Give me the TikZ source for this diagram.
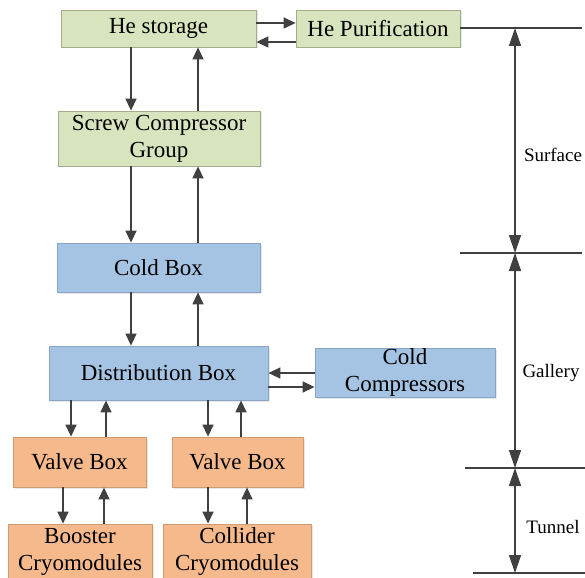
\documentclass[tikz,border=0pt]{standalone}
\usepackage{fontspec}
\setmainfont{Liberation Serif}
\usetikzlibrary{arrows.meta,shadows}
\definecolor{grfill}{HTML}{D7E4BD}
\definecolor{grdraw}{HTML}{A3AD8C}
\definecolor{blfill}{HTML}{A5C4E4}
\definecolor{bldraw}{HTML}{8AA5C4}
\definecolor{orfill}{HTML}{F5B98C}
\definecolor{ordraw}{HTML}{CF9A70}
\definecolor{arrcol}{HTML}{404040}
\tikzset{
  box/.style={rectangle, line width=0.8pt, align=center, inner sep=0pt,
    font=\fontsize{23}{27}\selectfont,
    drop shadow={opacity=0.18, shadow xshift=1.5pt, shadow yshift=-1.5pt}},
  gbox/.style={box, fill=grfill, draw=grdraw},
  bbox/.style={box, fill=blfill, draw=bldraw},
  obox/.style={box, fill=orfill, draw=ordraw},
  arr/.style={draw=arrcol, line width=1.4pt, -{Triangle[length=12pt,width=11pt]}},
  dimarr/.style={draw=arrcol, line width=1.4pt, {Triangle[length=18pt,width=12pt]}-{Triangle[length=18pt,width=12pt]}},
  hline/.style={draw=arrcol, line width=1.4pt},
  lab/.style={font=\fontsize{19}{22}\selectfont, inner sep=0pt}
}
\begin{document}
\begin{tikzpicture}[x=1pt,y=-1pt]
\clip (0,0) rectangle (585,577);
\fill[white] (0,0) rectangle (585,577);
% nodes
\node[gbox, minimum width=195, minimum height=37] (hes) at (158.5,28.5) {He storage};
\node[gbox, minimum width=164, minimum height=37] (hep) at (378,28.5) {He Purification};
\node[gbox, minimum width=202, minimum height=55] (scg) at (159,138.5) {Screw Compressor\\Group};
\node[bbox, minimum width=203, minimum height=49] (cb) at (158.5,267.5) {Cold Box};
\node[bbox, minimum width=219, minimum height=54] (db) at (158.5,373) {Distribution Box};
\node[bbox, minimum width=180, minimum height=49] (cc) at (405,372.5) {Cold\\Compressors};
\node[obox, minimum width=133, minimum height=50] (vb1) at (79.5,462) {Valve Box};
\node[obox, minimum width=131, minimum height=50] (vb2) at (237.5,462) {Valve Box};
\node[obox, minimum width=144, minimum height=55] (bc) at (80,551.5) {Booster\\Cryomodules};
\node[obox, minimum width=148, minimum height=55] (col) at (237,551.5) {Collider\\Cryomodules};
% connectors
\draw[arr] (hes.east |- 0,23) -- (hep.west |- 0,23);
\draw[arr] (hep.west |- 0,42) -- (hes.east |- 0,42);
\draw[arr] (hes.south -| 131,0) -- (scg.north -| 131,0);
\draw[arr] (scg.north -| 198,0) -- (hes.south -| 198,0);
\draw[arr] (scg.south -| 131,0) -- (cb.north -| 131,0);
\draw[arr] (cb.north -| 198,0) -- (scg.south -| 198,0);
\draw[arr] (cb.south -| 131,0) -- (db.north -| 131,0);
\draw[arr] (db.north -| 198,0) -- (cb.south -| 198,0);
\draw[arr] (cc.west |- 0,373) -- (db.east |- 0,373);
\draw[arr] (db.east |- 0,387) -- (cc.west |- 0,387);
\draw[arr] (db.south -| 71,0) -- (vb1.north -| 71,0);
\draw[arr] (vb1.north -| 106,0) -- (db.south -| 106,0);
\draw[arr] (db.south -| 208,0) -- (vb2.north -| 208,0);
\draw[arr] (vb2.north -| 241,0) -- (db.south -| 241,0);
\draw[arr] (vb1.south -| 63,0) -- (bc.north -| 63,0);
\draw[arr] (bc.north -| 104,0) -- (vb1.south -| 104,0);
\draw[arr] (vb2.south -| 208,0) -- (col.north -| 208,0);
\draw[arr] (col.north -| 247,0) -- (vb2.south -| 247,0);
% dimension lines
\coordinate (t1) at (582,28);
\coordinate (l2) at (460,253);
\coordinate (r2) at (582,253);
\coordinate (l3) at (465,468);
\coordinate (r3) at (585,468);
\coordinate (l4) at (473,573);
\coordinate (r4) at (585,573);
\coordinate (s1) at (515,28);
\coordinate (s2) at (515,253);
\coordinate (s3) at (515,468);
\coordinate (s4) at (515,573);
\draw[hline] (hep.east |- t1) -- (t1);
\draw[hline] (l2) -- (r2);
\draw[hline] (l3) -- (r3);
\draw[hline] (l4) -- (r4);
\draw[dimarr] (s1) -- (s2);
\draw[dimarr] (s2) -- (s3);
\draw[dimarr] (s3) -- (s4);
\node[lab] (sur) at (553,155) {Surface};
\node[lab] (gal) at (551,373) {Gallery};
\node[lab] (tun) at (553,527) {Tunnel};
\end{tikzpicture}
\end{document}
